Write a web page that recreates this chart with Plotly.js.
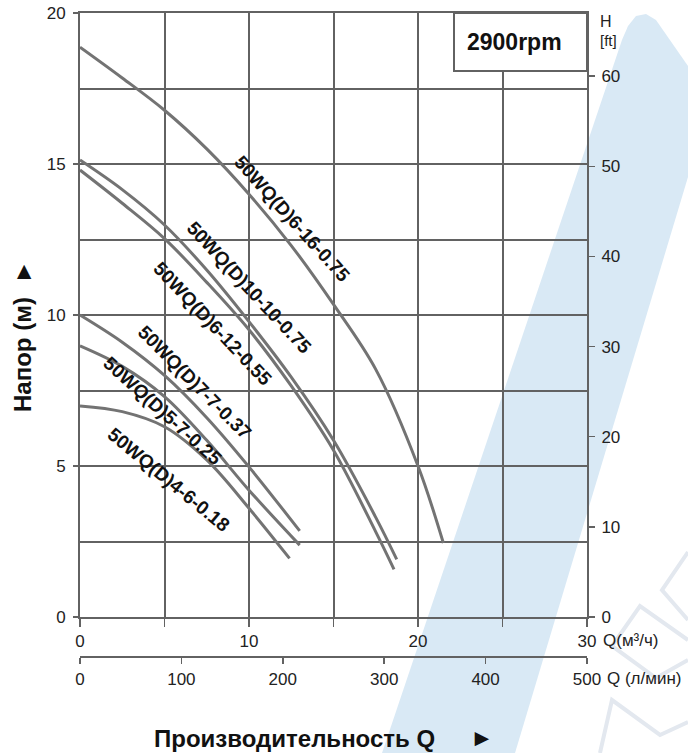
<!DOCTYPE html>
<html><head><meta charset="utf-8">
<script src="https://cdn.plot.ly/plotly-3.0.1.min.js"></script>
<style>html,body{margin:0;padding:0;background:#fff;}#chart{width:688px;height:753px;}</style>
</head><body><div id="chart"></div>
<script>
// ---- data (flow Q in m3/h, head H in m) ----
const seriesNames = ["50WQ(D)6-16-0.75","50WQ(D)10-10-0.75","50WQ(D)6-12-0.55","50WQ(D)7-7-0.37","50WQ(D)5-7-0.25","50WQ(D)4-6-0.18"];
const q_6_16  = [0, 2.5, 5, 7.5, 10, 12.5, 15, 17.5, 20, 21.5];
const h_6_16  = [18.87, 17.85, 16.78, 15.5, 14.0, 12.3, 10.35, 8.2, 5.0, 2.45];
const q_10_10 = [0, 2.5, 5, 7.5, 10, 12.5, 15, 17.5, 18.74];
const h_10_10 = [15.13, 14.15, 12.98, 11.49, 9.78, 7.94, 5.85, 3.3, 1.91];
const q_6_12  = [0, 2.5, 5, 7.5, 10, 12.5, 15, 17.5, 18.58];
const h_6_12  = [14.8, 13.7, 12.53, 11.08, 9.51, 7.65, 5.52, 2.82, 1.58];
const q_7_7   = [0, 2.5, 5, 7.5, 10, 13.0];
const h_7_7   = [10.0, 9.1, 8.0, 6.6, 4.97, 2.85];
const q_5_7   = [0, 2.5, 5, 7.5, 10, 13.0];
const h_5_7   = [8.98, 8.3, 7.3, 5.85, 4.2, 2.38];
const q_4_6   = [0, 2.5, 5, 7.5, 10, 12.4];
const h_4_6   = [6.99, 6.8, 6.3, 5.2, 3.6, 1.94];

const qTicks = [0, 5, 10, 15, 20, 25, 30];
const qTickText = ["0", "", "10", "", "20", "", "30"];
const lpmTicks = [0, 100, 200, 300, 400, 500];
const hTicks = [0, 5, 10, 15, 20];
const ftTicks = [0, 10, 20, 30, 40, 50, 60];
const rpmLabel = "2900rpm";

// ---- layout helpers ----
const L = 80, R = 587, T = 13, B = 657;
const px2x = px => (px - L) / (R - L);
const px2y = py => (B - py) / (B - T);
const GRID = "#626262";
const CURVE = "#737373";
const FONT = "Liberation Sans, Arial, sans-serif";

const qs = [q_6_16, q_10_10, q_6_12, q_7_7, q_5_7, q_4_6];
const hs = [h_6_16, h_10_10, h_6_12, h_7_7, h_5_7, h_4_6];
const traces = seriesNames.map((n, i) => ({
  type: "scatter", mode: "lines", name: n, x: qs[i], y: hs[i],
  line: {color: CURVE, width: 3, shape: "spline", smoothing: 1},
  hoverinfo: "skip", xaxis: "x", yaxis: "y"
}));
traces.push({type: "scatter", mode: "lines", x: [], y: [], xaxis: "x2", yaxis: "y", hoverinfo: "skip"});
traces.push({type: "scatter", mode: "lines", x: [], y: [], xaxis: "x", yaxis: "y2", hoverinfo: "skip"});

// label placement (Q, H, angle)
const labelPos = [[12.53, 13.18, 48], [10.01, 10.91, 47], [7.84, 9.72, 46.5], [6.79, 7.76, 45], [4.86, 6.83, 42], [5.22, 4.54, 39.5]];
const annotations = seriesNames.map((n, i) => ({
  x: labelPos[i][0], y: labelPos[i][1], xref: "x", yref: "y", text: "<b>" + n + "</b>", showarrow: false,
  textangle: labelPos[i][2], xanchor: "center", yanchor: "middle",
  font: {family: FONT, size: 19, color: "#111"}
}));
annotations.push(
  {xref: "paper", yref: "paper", x: px2x(514), y: px2y(42), text: "<b>" + rpmLabel + "</b>", showarrow: false,
   xanchor: "center", yanchor: "middle", font: {family: FONT, size: 23, color: "#111"}},
  {xref: "paper", yref: "paper", x: px2x(598), y: px2y(21), text: "H", showarrow: false,
   xanchor: "left", yanchor: "middle", font: {family: FONT, size: 16, color: "#222"}},
  {xref: "paper", yref: "paper", x: px2x(598), y: px2y(40), text: "[ft]", showarrow: false,
   xanchor: "left", yanchor: "middle", font: {family: FONT, size: 15, color: "#222"}},
  {xref: "paper", yref: "paper", x: px2x(601), y: px2y(640), text: "Q(м³/ч)", showarrow: false,
   xanchor: "left", yanchor: "middle", font: {family: FONT, size: 17, color: "#222"}},
  {xref: "paper", yref: "paper", x: px2x(605), y: px2y(679), text: "Q (л/мин)", showarrow: false,
   xanchor: "left", yanchor: "middle", font: {family: FONT, size: 17, color: "#222"}},
  {xref: "paper", yref: "paper", x: px2x(152), y: px2y(738), text: "<b>Производительность Q</b>", showarrow: false,
   xanchor: "left", yanchor: "middle", font: {family: FONT, size: 24, color: "#111"}},
  {xref: "paper", yref: "paper", x: px2x(482), y: px2y(737), text: "<b>►</b>", showarrow: false,
   xanchor: "center", yanchor: "middle", font: {family: FONT, size: 24, color: "#111"}},
  {xref: "paper", yref: "paper", x: px2x(22), y: px2y(336), text: "<b>Напор (м)  ►</b>", showarrow: false,
   textangle: -90, xanchor: "center", yanchor: "middle", font: {family: FONT, size: 24, color: "#111"}}
);

// watermark polygon (pixel coords -> paper)
const toPath = pts => "M " + pts.map(p => px2x(p[0]).toFixed(4) + "," + px2y(p[1]).toFixed(4)).join(" L ");
const wm = [[382, 753], [622, 40], [628, 26], [636, 16], [646, 14], [656, 20], [688, 66], [688, 177], [515, 753]];
// faint outline strokes of the watermark logo (pixel coords)
const wmOutline = [
  [[688, 552], [662, 590], [688, 620]],
  [[688, 640], [640, 606], [612, 646], [656, 678], [688, 660]],
  [[600, 753], [612, 700], [660, 735], [688, 722]]
];

const shapes = [
  {type: "path", xref: "paper", yref: "paper", path: toPath(wm) + " Z", fillcolor: "#d9e9f5", line: {width: 0}, layer: "below"}
].concat(wmOutline.map(o => ({type: "path", xref: "paper", yref: "paper", path: toPath(o),
  line: {color: "#e3e8ef", width: 4}, layer: "below"}))).concat([
  {type: "rect", xref: "paper", yref: "paper", x0: px2x(454), x1: 1, y0: px2y(71), y1: 1,
   fillcolor: "#ffffff", line: {color: GRID, width: 2}, layer: "above"}
]);

const axisCommon = {zeroline: false, fixedrange: true, linecolor: GRID, linewidth: 2, tickcolor: GRID, tickwidth: 1.5,
  tickfont: {family: FONT, size: 17, color: "#222"}};

const layout = {
  width: 688, height: 753,
  margin: {l: L, r: 688 - R, t: T, b: 753 - B, pad: 0},
  paper_bgcolor: "#ffffff", plot_bgcolor: "rgba(0,0,0,0)",
  showlegend: false,
  font: {family: FONT, color: "#222"},
  xaxis: Object.assign({}, axisCommon, {range: [0, 30], domain: [0, 1], anchor: "y", tickmode: "array",
    tickvals: qTicks, ticktext: qTickText, ticks: "outside", ticklen: 8, showgrid: true, gridcolor: GRID, gridwidth: 2,
    showline: true, mirror: true}),
  xaxis2: Object.assign({}, axisCommon, {range: [0, 500], overlaying: "x", anchor: "free", position: 0, side: "bottom",
    tickmode: "array", tickvals: lpmTicks, ticks: "outside", ticklen: 6, showgrid: false, showline: true, ticklabelstandoff: 1}),
  yaxis: Object.assign({}, axisCommon, {range: [0, 20], domain: [px2y(617), 1], anchor: "x", tickmode: "array",
    tickvals: hTicks, ticks: "outside", ticklen: 5, showgrid: true, gridcolor: GRID, gridwidth: 2,
    minor: {dtick: 2.5, showgrid: true, gridcolor: GRID, gridwidth: 2, ticks: ""},
    showline: true, ticklabelstandoff: 4}),
  yaxis2: Object.assign({}, axisCommon, {range: [0, 67], overlaying: "y", side: "right", anchor: "x", tickmode: "array",
    tickvals: ftTicks, ticks: "outside", ticklen: 6, showgrid: false, showline: true, ticklabelstandoff: 3}),
  shapes: shapes,
  annotations: annotations
};

Plotly.newPlot("chart", traces, layout, {displayModeBar: false, staticPlot: true});
</script>
</body></html>
